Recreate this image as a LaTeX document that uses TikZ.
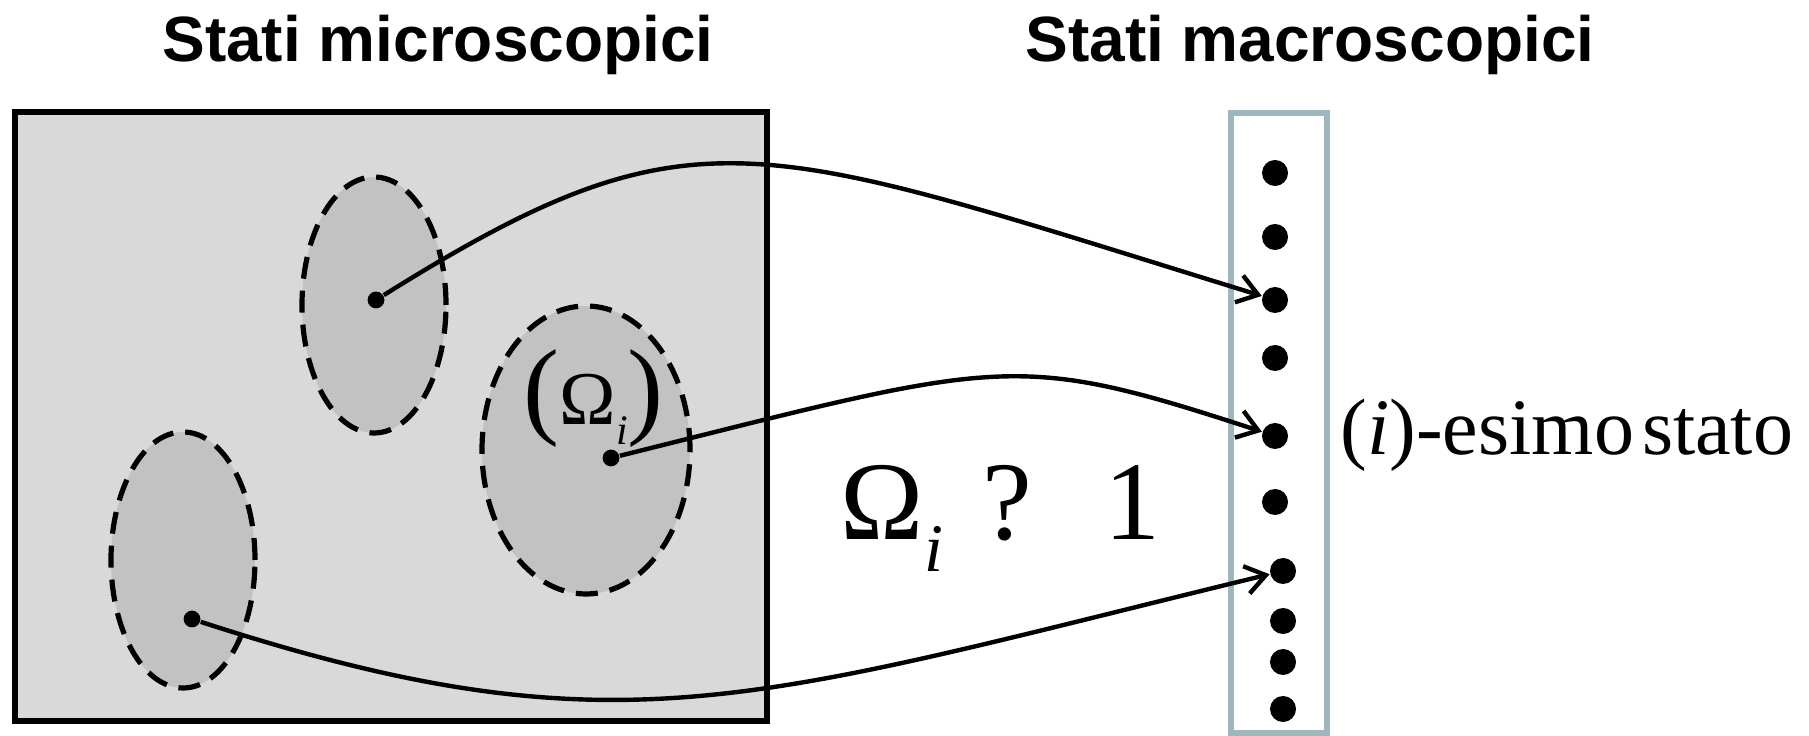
\documentclass[tikz,border=0pt]{standalone}
\usepackage{fontspec}
\setmainfont{Liberation Serif}
\setsansfont{Liberation Sans}
\usepackage{tikz}
\usetikzlibrary{arrows.meta,shapes.geometric}
\definecolor{boxgray}{HTML}{D9D9D9}
\definecolor{regiongray}{HTML}{C2C2C2}
\definecolor{colborder}{HTML}{9DB8BD}
\tikzset{>={Straight Barb[length=5pt,width=7pt]}}
\tikzset{
  title/.style={font=\sffamily\bfseries\fontsize{16}{16}\selectfont, inner sep=0pt, anchor=base},
  microbox/.style={draw, line width=1.4pt, fill=boxgray},
  macrobox/.style={draw=colborder, line width=1.4pt, fill=white},
  region/.style={ellipse, draw, dashed, dash pattern=on 5.5pt off 3pt, line width=1.3pt, fill=regiongray, inner sep=0pt},
  sdot/.style={circle, fill=black, inner sep=0pt, minimum size=6.5pt},
  pdot/.style={circle, fill=black, inner sep=0pt, minimum size=4.2pt},
  arrow/.style={->, line width=1.1pt},
}

\begin{document}
\begin{tikzpicture}[x=0.25pt, y=-0.25pt]
\useasboundingbox (0,0) rectangle (1809,736);

\node[title] (tmicro) at (438,62) {Stati microscopici};
\node[title] (tmacro) at (1310,62) {Stati macroscopici};

% microscopic states
\draw[microbox] (15,112) rectangle (767,721);
\node[region, minimum width=36pt, minimum height=64pt] (r1) at (374,305) {};
\node[region, minimum width=52pt, minimum height=72pt] (r2) at (586,450) {};
\node[region, minimum width=36pt, minimum height=64pt] (r3) at (183,560) {};
\node[pdot] (p1) at (376,300) {};
\node[pdot] (p2) at (611,458) {};
\node[pdot] (p3) at (192,619) {};
\node[inner sep=0pt, anchor=base west, font=\fontsize{19}{19}\selectfont] (omlab) at (523,425)
  {{\fontsize{27}{27}\selectfont(}Ω\raisebox{-5pt}{\fontsize{10.5}{10.5}\selectfont\itshape i}{\fontsize{27}{27}\selectfont)}};

% macroscopic states
\draw[macrobox] (1231,113) rectangle (1327,733);
\foreach \y [count=\k] in {173,237,300,358,436,502}
  \node[sdot] (d\k) at (1275,\y) {};
\foreach \y [count=\k from 7] in {571,621,662,709}
  \node[sdot] (d\k) at (1283,\y) {};

\node[inner sep=0pt, anchor=base west, font=\fontsize{20}{20}\selectfont] (ilab) at (1340,455) {(\textit{i})-esimo\hspace{0.1em}stato};
\node[inner sep=0pt, anchor=base west, font=\fontsize{28}{28}\selectfont] (big) at (840,540)
  {Ω\raisebox{-8pt}{\fontsize{17}{17}\selectfont\itshape i}\hspace{10pt}?\hspace{18pt}1};

\draw[arrow] (p1) .. controls +(320,-200) and +(-520,-160) .. (d3);
\draw[arrow] (p2) .. controls +(393,-98) and +(-263,-86) .. (d5);
\draw[arrow] (p3) .. controls +(428,139) and +(-528,128) .. (d7);
\end{tikzpicture}
\end{document}
